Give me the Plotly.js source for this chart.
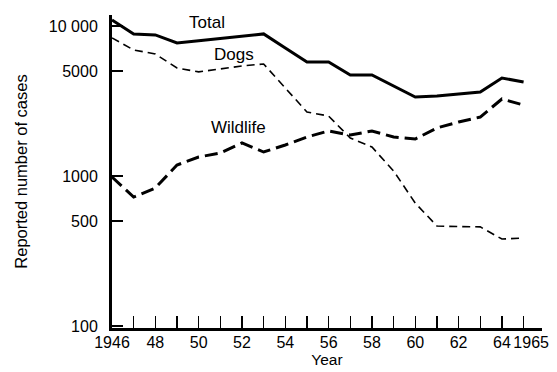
<!DOCTYPE html>
<html>
<head>
<meta charset="utf-8">
<script src="https://cdn.plot.ly/plotly-3.0.1.min.js"></script>
<style>html,body{margin:0;padding:0;background:#fff;}#chart{width:557px;height:372px;}</style>
</head>
<body>
<div id="chart"></div>
<script>
const years = [1946,1947,1948,1949,1950,1951,1952,1953,1954,1955,1956,1957,1958,1959,1960,1961,1962,1963,1964,1965];
const total = [10960,8850,8710,7700,7975,8250,8545,8850,7130,5750,5750,4710,4710,3980,3360,3415,3520,3630,4500,4230];
const dogs = [8320,6920,6500,5250,4940,5165,5410,5580,3860,2670,2510,1790,1560,1080,660,464,460,458,380,386];
const wildlife = [985,724,832,1184,1338,1423,1660,1445,1610,1820,1995,1875,1995,1820,1765,2090,2290,2470,3260,2970];

const yTickVals = [100,500,1000,5000,10000];
const yTickText = ['100','500','1000','5000','10 000'];
const xLabelYears = [1946,1948,1950,1952,1954,1956,1958,1960,1962,1964,1965];
const xLabelText = ['1946','48','50','52','54','56','58','60','62','64','1965'];

const FONT = 'Liberation Sans, Arial, Helvetica, sans-serif';
const X_RANGE = [1946, 1965.85];

// tick marks at every year plus the end of the axis
const tickYears = years.concat([X_RANGE[1]]);
// the last label ("1965") sits a little right of its tick so it clears "64"
const labelPos = xLabelYears.map((v, i) => i === xLabelYears.length - 1 ? v + 0.35 : v);

const traces = [
  {x: years, y: total, mode: 'lines', name: 'Total', line: {color: '#000', width: 3}},
  {x: years, y: dogs, mode: 'lines', name: 'Dogs', line: {color: '#000', width: 1.6, dash: '8px,5px'}},
  {x: years, y: wildlife, mode: 'lines', name: 'Wildlife', line: {color: '#000', width: 3, dash: '13px,6px'}},
  {x: [X_RANGE[0]], y: [null], xaxis: 'x2', yaxis: 'y', mode: 'lines', showlegend: false, hoverinfo: 'skip'}
];

const layout = {
  width: 557, height: 372,
  margin: {l: 112, r: 15, t: 15, b: 44},
  paper_bgcolor: '#fff', plot_bgcolor: '#fff',
  showlegend: false,
  font: {family: FONT, color: '#000', size: 16},
  xaxis: {
    range: X_RANGE,
    showgrid: false, zeroline: false,
    showline: true, linewidth: 3, linecolor: '#000',
    ticks: 'inside', ticklen: 12, tickwidth: 1.5, tickcolor: '#000',
    tickmode: 'array', tickvals: tickYears,
    showticklabels: false
  },
  xaxis2: {
    overlaying: 'x', anchor: 'y', side: 'bottom',
    range: X_RANGE,
    showgrid: false, zeroline: false, showline: false,
    ticks: '', tickangle: 0,
    tickmode: 'array', tickvals: labelPos, ticktext: xLabelText,
    tickfont: {size: 16, family: FONT, color: '#000'},
    ticklabelstandoff: 3,
    title: {text: 'Year', font: {size: 15.5, family: FONT, color: '#000'}, standoff: 0}
  },
  yaxis: {
    type: 'log',
    range: [1.987, 4.073],
    showgrid: false, zeroline: false,
    showline: true, linewidth: 3, linecolor: '#000',
    ticks: 'inside', ticklen: 11, tickwidth: 2, tickcolor: '#000',
    tickmode: 'array', tickvals: yTickVals, ticktext: yTickText,
    tickfont: {size: 16, family: FONT, color: '#000'},
    ticklabelstandoff: 8,
    title: {text: 'Reported number of cases', font: {size: 16.5, family: FONT, color: '#000'}, standoff: 18}
  },
  annotations: [
    {x: 1950.4, y: 4.02, xref: 'x', yref: 'y', text: 'Total', showarrow: false, font: {size: 17, family: FONT, color: '#000'}},
    {x: 1951.63, y: 3.813, xref: 'x', yref: 'y', text: 'Dogs', showarrow: false, font: {size: 17, family: FONT, color: '#000'}},
    {x: 1951.86, y: 3.326, xref: 'x', yref: 'y', text: 'Wildlife', showarrow: false, font: {size: 17, family: FONT, color: '#000'}}
  ]
};

Plotly.newPlot('chart', traces, layout, {displayModeBar: false, staticPlot: true});
</script>
</body>
</html>
